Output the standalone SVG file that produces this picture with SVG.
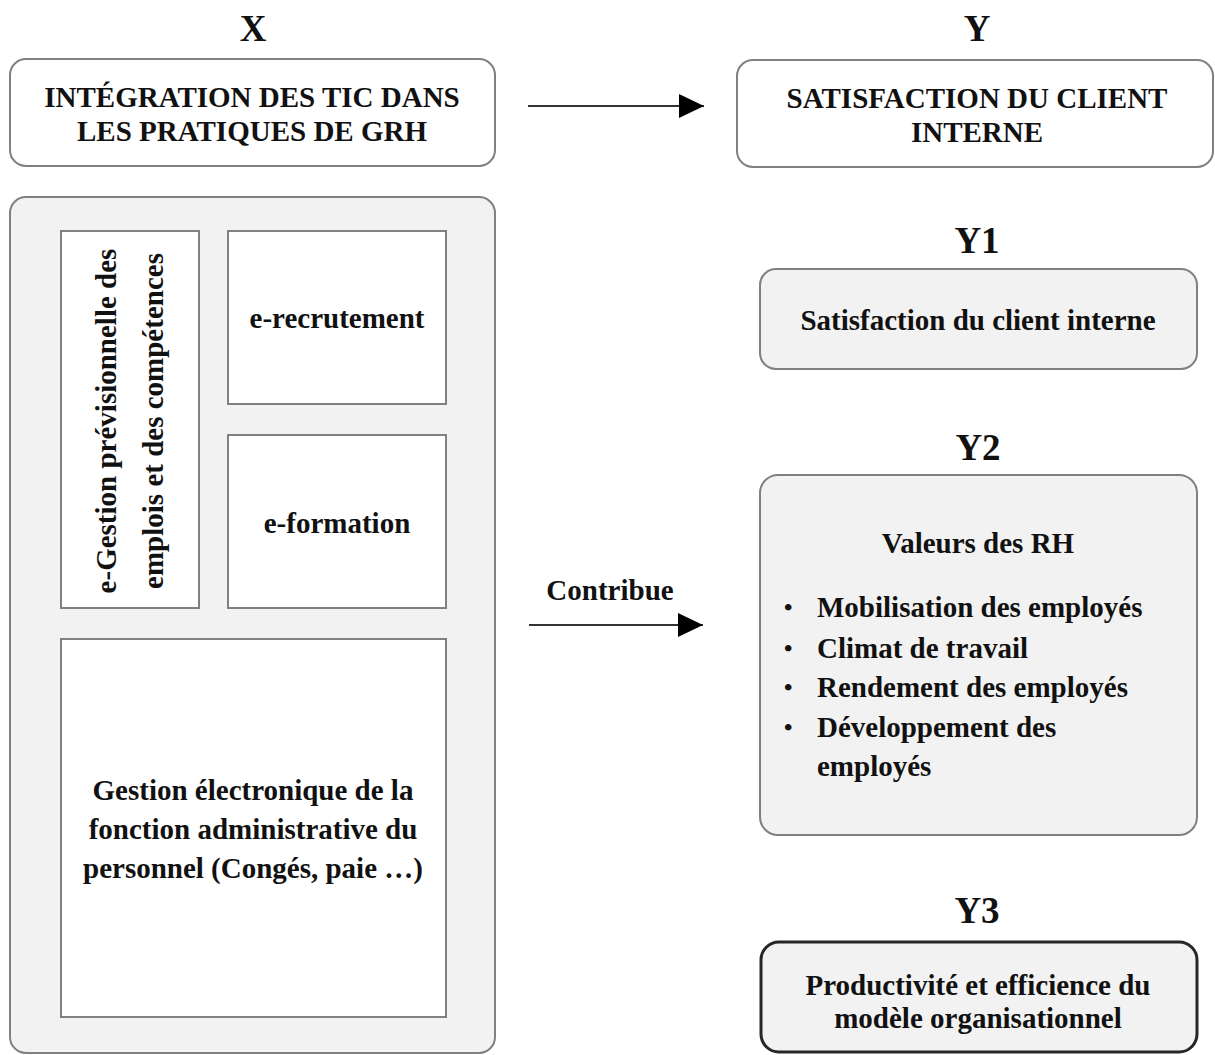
<svg xmlns="http://www.w3.org/2000/svg" width="1215" height="1055" viewBox="0 0 1215 1055">
<style>
text{font-family:"Liberation Serif","Times New Roman",serif;font-weight:bold;fill:#111;}
.t{font-size:29px;text-anchor:middle;}
.tl{font-size:29px;}
.bu{font-size:24px;}
.lab{font-size:37px;text-anchor:middle;}
.rw{fill:#fff;stroke:#808080;stroke-width:2;}
.rg{fill:#f2f2f2;stroke:#808080;stroke-width:2;}
.sq{fill:#fff;stroke:#808080;stroke-width:2;}
.con{stroke:#333;stroke-width:2;fill:none;}
</style>
<defs>
<marker id="ah" markerUnits="userSpaceOnUse" markerWidth="26" markerHeight="26" refX="25" refY="12" orient="auto">
<path d="M0,0 L25,12 L0,24 Z" fill="#000"/>
</marker>
</defs>
<rect width="1215" height="1055" fill="#fff"/>

<g id="label-x"><text class="lab" x="253" y="41">X</text></g>
<g id="label-y"><text class="lab" x="977" y="41">Y</text></g>
<g id="label-y1"><text class="lab" x="977" y="253">Y1</text></g>
<g id="label-y2"><text class="lab" x="978" y="460">Y2</text></g>
<g id="label-y3"><text class="lab" x="977" y="923">Y3</text></g>

<g id="node-x">
<rect class="rw" x="10" y="59" width="485" height="107" rx="16"/>
<text class="t" x="252" y="107">INTÉGRATION DES TIC DANS</text>
<text class="t" x="252" y="141">LES PRATIQUES DE GRH</text>
</g>

<g id="node-y">
<rect class="rw" x="737" y="60" width="476" height="107" rx="16"/>
<text class="t" x="977" y="108">SATISFACTION DU CLIENT</text>
<text class="t" x="977" y="142">INTERNE</text>
</g>

<g id="node-container">
<rect class="rg" x="10" y="197" width="485" height="856" rx="16"/>
</g>

<g id="node-gpec">
<rect class="sq" x="61" y="231" width="138" height="377"/>
<text class="t" transform="translate(116,421) rotate(-90)">e-Gestion prévisionnelle des</text>
<text class="t" transform="translate(163,421) rotate(-90)">emplois et des compétences</text>
</g>

<g id="node-recrutement">
<rect class="sq" x="228" y="231" width="218" height="173"/>
<text class="t" x="337" y="328">e-recrutement</text>
</g>

<g id="node-formation">
<rect class="sq" x="228" y="435" width="218" height="173"/>
<text class="t" x="337" y="533">e-formation</text>
</g>

<g id="node-admin">
<rect class="sq" x="61" y="639" width="385" height="378"/>
<text class="t" x="253" y="800">Gestion électronique de la</text>
<text class="t" x="253" y="839">fonction administrative du</text>
<text class="t" x="253" y="878">personnel (Congés, paie …)</text>
</g>

<g id="node-y1">
<rect class="rg" x="760" y="269" width="437" height="100" rx="16"/>
<text class="t" x="978" y="330">Satisfaction du client interne</text>
</g>

<g id="node-y2">
<rect class="rg" x="760" y="475" width="437" height="360" rx="18"/>
<text class="t" x="978" y="553">Valeurs des RH</text>
<text class="bu" x="784" y="615">•</text>
<text class="tl" x="817" y="617">Mobilisation des employés</text>
<text class="bu" x="784" y="656">•</text>
<text class="tl" x="817" y="658">Climat de travail</text>
<text class="bu" x="784" y="695">•</text>
<text class="tl" x="817" y="697">Rendement des employés</text>
<text class="bu" x="784" y="735">•</text>
<text class="tl" x="817" y="737">Développement des</text>
<text class="tl" x="817" y="776">employés</text>
</g>

<g id="node-y3">
<rect x="761" y="942" width="436" height="110" rx="18" fill="#f2f2f2" stroke="#262626" stroke-width="3"/>
<text class="t" x="978" y="995">Productivité et efficience du</text>
<text class="t" x="978" y="1028">modèle organisationnel</text>
</g>

<g id="connectors">
<line class="con" x1="528" y1="106" x2="704" y2="106" marker-end="url(#ah)"/>
<line class="con" x1="529" y1="625" x2="703" y2="625" marker-end="url(#ah)"/>
<text class="t" x="610" y="600">Contribue</text>
</g>
</svg>
